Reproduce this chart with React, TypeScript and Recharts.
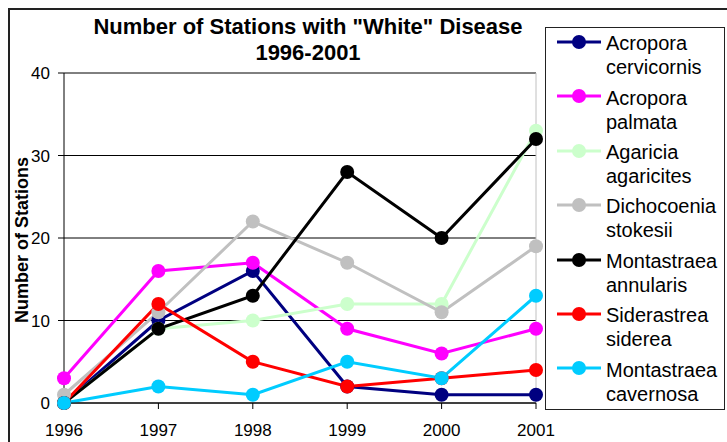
import React from "react";
import { LineChart, Line, XAxis, YAxis, CartesianGrid, ReferenceLine } from "recharts";

const years = ["1996", "1997", "1998", "1999", "2000", "2001"];
const cervicornis = [0, 10, 16, 2, 1, 1];
const palmata = [3, 16, 17, 9, 6, 9];
const agaricites = [0, 9, 10, 12, 12, 33];
const stokesii = [1, 11, 22, 17, 11, 19];
const annularis = [0, 9, 13, 28, 20, 32];
const siderea = [0, 12, 5, 2, 3, 4];
const cavernosa = [0, 2, 1, 5, 3, 13];
const yTicks = [0, 10, 20, 30, 40];

const series = [
  { key: "cervicornis", label: ["Acropora", "cervicornis"], values: cervicornis, color: "#000080" },
  { key: "palmata", label: ["Acropora", "palmata"], values: palmata, color: "#FF00FF" },
  { key: "agaricites", label: ["Agaricia", "agaricites"], values: agaricites, color: "#CCFFCC" },
  { key: "stokesii", label: ["Dichocoenia", "stokesii"], values: stokesii, color: "#C0C0C0" },
  { key: "annularis", label: ["Montastraea", "annularis"], values: annularis, color: "#000000" },
  { key: "siderea", label: ["Siderastrea", "siderea"], values: siderea, color: "#FF0000" },
  { key: "cavernosa", label: ["Montastraea", "cavernosa"], values: cavernosa, color: "#00CCFF" },
];

const data = years.map((year, i) => {
  const row: Record<string, string | number> = { year };
  series.forEach((s) => (row[s.key] = s.values[i]));
  return row;
});

const font = '"Liberation Sans", Arial, sans-serif';

export default function App() {
  return (
    <div style={{ position: "absolute", left: 0, top: 0, width: 727, height: 442, overflow: "hidden", fontFamily: font, background: "#fff" }}>
      <div style={{ position: "absolute", left: 8, top: 8, width: 719, height: 434, boxSizing: "border-box", borderTop: "2px solid #222", borderLeft: "2px solid #222" }} />

      <div style={{ position: "absolute", left: 0, top: 13.7, width: 616, textAlign: "center", fontSize: 22, lineHeight: "26px", fontWeight: "bold", color: "#000" }}>
        Number of Stations with "White" Disease
        <br />
        1996-2001
      </div>

      <div style={{ position: "absolute", left: -78, top: 230, width: 200, height: 20, lineHeight: "20px", textAlign: "center", fontSize: 18, fontWeight: "bold", transform: "rotate(-90deg)", color: "#000" }}>
        Number of Stations
      </div>

      <div style={{ position: "absolute", left: 0, top: 0 }}>
        <LineChart width={727} height={442} data={data} margin={{ top: 73, right: 191, bottom: 9, left: 0 }} style={{ fontFamily: font }}>
          <CartesianGrid vertical={false} stroke="#000" strokeWidth={1} />
          <ReferenceLine y={40} stroke="#808080" strokeWidth={1} />
          <ReferenceLine x="2001" stroke="#C0C0C0" strokeWidth={1} />
          <XAxis
            dataKey="year"
            interval={0}
            padding={{ left: 0, right: 0 }}
            height={30}
            tickSize={6}
            tickMargin={15}
            axisLine={{ stroke: "#000" }}
            tickLine={{ stroke: "#000" }}
            tick={{ fontSize: 17, fill: "#000" }}
          />
          <YAxis
            width={64}
            domain={[0, 40]}
            ticks={yTicks}
            tickSize={6}
            tickMargin={8}
            axisLine={{ stroke: "#000" }}
            tickLine={{ stroke: "#000" }}
            tick={{ fontSize: 17, fill: "#000" }}
          />
          {series.map((s) => (
            <Line
              key={s.key}
              dataKey={s.key}
              type="linear"
              stroke={s.color}
              strokeWidth={3}
              dot={{ r: 7, fill: s.color, stroke: s.color, strokeWidth: 0 }}
              activeDot={false}
              isAnimationActive={false}
            />
          ))}
        </LineChart>
      </div>

      <div style={{ position: "absolute", left: 545, top: 27, width: 180, height: 383, boxSizing: "border-box", border: "1px solid #222", background: "#fff" }} />
      {series.map((s, i) => {
        const base = 50 + 54.45 * i;
        return (
          <React.Fragment key={s.key}>
            <svg style={{ position: "absolute", left: 555, top: base - 8.3 - 10 }} width={48} height={20}>
              <line x1={2} y1={10} x2={46} y2={10} stroke={s.color} strokeWidth={3} />
              <circle cx={24} cy={10} r={7} fill={s.color} />
            </svg>
            <div style={{ position: "absolute", left: 606, top: base - 18.95, fontSize: 20, lineHeight: "24px", color: "#000", whiteSpace: "nowrap" }}>
              {s.label[0]}
              <br />
              {s.label[1]}
            </div>
          </React.Fragment>
        );
      })}
    </div>
  );
}
